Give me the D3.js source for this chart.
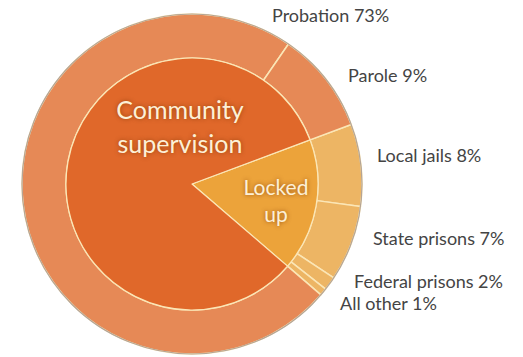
<!DOCTYPE html>
<html>
<head>
<meta charset="utf-8">
<script src="https://cdnjs.cloudflare.com/ajax/libs/d3/7.8.5/d3.min.js"></script>
<style>
  body { margin: 0; background: #fff; }
  svg text { font-family: Lato, "Open Sans", sans-serif; }
  .inner-label { fill: #fdf0d6; text-shadow: 0 0 4px rgba(120,50,0,0.7); }
</style>
</head>
<body>
<svg id="chart"></svg>
<script>
// outer ring: detail categories (share of total)
const detailNames = ["Local jails", "State prisons", "Federal prisons", "All other", "Probation", "Parole"];
const detailValues = [7.8, 7.2, 1.3, 0.7, 73.3, 9.7];
const detailGroup = ["locked", "locked", "locked", "locked", "community", "community"];
const detailLabels = ["Local jails 8%", "State prisons 7%", "Federal prisons 2%", "All other 1%", "Probation 73%", "Parole 9%"];

// inner ring: groups
const groupKeys = ["locked", "community"];
const groupLabels = [["Locked", "up"], ["Community", "supervision"]];

const width = 523, height = 357;
const cx = 192, cy = 184;
const rOuter = 170, rInner = 126;
const startDeg = 69.5;

const svg = d3.select("#chart")
    .attr("width", width)
    .attr("height", height);

const g = svg.append("g")
    .attr("transform", `translate(${cx},${cy})`);

const colorOuter = d3.scaleOrdinal().domain(groupKeys).range(["#edb564", "#e68956"]);
const colorInner = d3.scaleOrdinal().domain(groupKeys).range(["#eca33a", "#e0682a"]);

const start = startDeg * Math.PI / 180;
const pie = d3.pie().sort(null).startAngle(start).endAngle(start + 2 * Math.PI);

const detailData = detailNames.map((name, i) => ({ name, value: detailValues[i], group: detailGroup[i] }));
const groupData = groupKeys.map(k => ({
    key: k,
    value: d3.sum(detailData.filter(d => d.group === k), d => d.value)
}));

const outerArc = d3.arc().innerRadius(rInner).outerRadius(rOuter);
const innerArc = d3.arc().innerRadius(0).outerRadius(rInner);

g.selectAll(".outer")
    .data(pie.value(d => d.value)(detailData))
    .enter()
    .append("path")
    .attr("class", "outer")
    .attr("d", outerArc)
    .attr("fill", d => colorOuter(d.data.group))
    .attr("stroke", "#fbe6b6")
    .attr("stroke-width", 1.5)
    .attr("stroke-linejoin", "round");

g.selectAll(".inner")
    .data(pie.value(d => d.value)(groupData))
    .enter()
    .append("path")
    .attr("class", "inner")
    .attr("d", innerArc)
    .attr("fill", d => colorInner(d.data.key))
    .attr("stroke", "#fbe6b6")
    .attr("stroke-width", 1.2)
    .attr("stroke-linejoin", "round");

// grey rim over the separators
g.append("circle")
    .attr("r", rOuter)
    .attr("fill", "none")
    .attr("stroke", "#b5a596")
    .attr("stroke-width", 1.2);

// outer labels (hand placed, as in the original slide)
const labelPos = [
    [377, 162], [373, 245], [354, 288], [340, 310], [272, 22], [348, 82]
];
svg.selectAll(".outer-label")
    .data(detailLabels)
    .enter()
    .append("text")
    .attr("class", "outer-label")
    .attr("x", (d, i) => labelPos[i][0])
    .attr("y", (d, i) => labelPos[i][1])
    .attr("font-size", 18)
    .attr("fill", "#444")
    .text(d => d);

// inner labels
const innerPos = [[276, 195, 27, 21], [180, 119, 34, 25]];
groupLabels.forEach((lines, i) => {
    const [x, y, dy, fs] = innerPos[i];
    const t = svg.append("text")
        .attr("class", "inner-label")
        .attr("text-anchor", "middle")
        .attr("font-size", fs)
        .attr("x", x)
        .attr("y", y);
    lines.forEach((line, j) => {
        t.append("tspan")
            .attr("x", x)
            .attr("dy", j === 0 ? 0 : dy)
            .text(line);
    });
});
</script>
</body>
</html>
